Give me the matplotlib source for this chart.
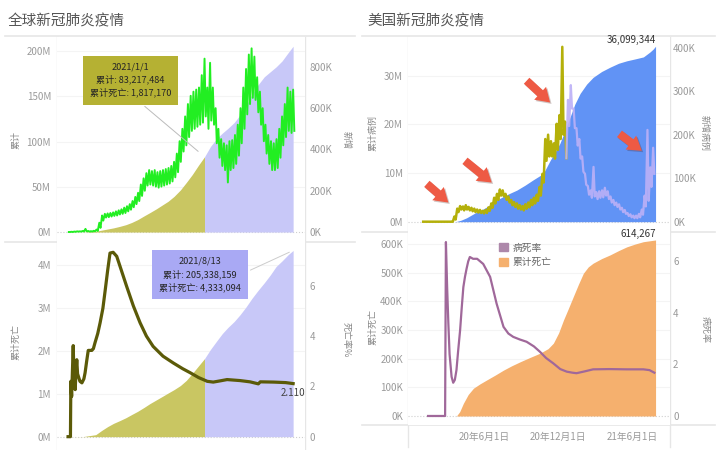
import numpy as np
import matplotlib
matplotlib.use('Agg')
import matplotlib.pyplot as plt
from matplotlib.lines import Line2D
from matplotlib.patches import Patch
import matplotlib.patheffects as pe

plt.rcParams['font.family'] = ['Noto Sans CJK SC', 'DejaVu Sans']
plt.rcParams['axes.unicode_minus'] = False

W, H = 720, 450

# ---------------- 全球 (第0天 = 2020-01-22) ----------------
# 每周新增的高点/低点 (K)
gl_new_hi = [0, 1, 2, 3, 3, 5, 15, 5, 4, 6,
             12, 45, 80, 88, 90, 92, 95, 100, 105, 110,
             118, 125, 135, 150, 170, 190, 230, 260, 285, 300,
             295, 300, 290, 295, 300, 305, 310, 320, 340, 380,
             440, 500, 560, 620, 660, 680, 690, 700, 760, 840,
             700, 820, 700, 600, 500, 450, 430, 420, 440, 445,
             470, 520, 600, 700, 790, 860, 890, 850, 750, 680,
             600, 520, 470, 440, 430, 450, 500, 560, 620, 700,
             680, 690]
gl_new_lo = [0, 0, 1, 2, 2, 2, 3, 2, 2, 3,
             5, 20, 55, 70, 72, 75, 78, 80, 85, 88,
             92, 100, 108, 120, 135, 150, 175, 200, 225, 230,
             225, 220, 215, 220, 225, 230, 235, 245, 265, 290,
             340, 390, 420, 460, 490, 500, 510, 520, 530, 560,
             500, 540, 520, 430, 360, 320, 300, 240, 300, 310,
             330, 370, 430, 500, 570, 620, 650, 640, 580, 520,
             440, 380, 330, 300, 300, 310, 360, 420, 460, 490,
             480, 490]
gl_days = [0, 10, 39, 70, 85, 100, 115, 131, 146, 161, 176, 192, 207, 223, 238,
           253, 268, 284, 299, 314, 330, 345, 360, 376, 390, 404, 420, 435, 450,
           465, 480, 496, 511, 526, 541, 557, 569]
gl_cum_cases = [0.0006, 0.012, 0.088, 0.93, 2.1, 3.35, 4.6, 6.3, 8.1, 10.6, 13.7,
                17.8, 21.5, 25.6, 29.8, 34.0, 39.4, 46.5, 54.8, 63.5, 74.0, 83.2,
                94.5, 103.5, 109.3, 114.5, 121.0, 129.5, 140.0, 152.0, 162.5,
                171.5, 177.0, 182.5, 189.0, 198.5, 205.3]  # M
gl_cum_deaths = [0.00002, 0.00026, 0.003, 0.047, 0.145, 0.234, 0.31, 0.375, 0.44,
                 0.516, 0.59, 0.68, 0.77, 0.855, 0.935, 1.016, 1.095, 1.19, 1.31,
                 1.47, 1.65, 1.817, 2.03, 2.23, 2.40, 2.54, 2.68, 2.84, 3.02, 3.22,
                 3.40, 3.58, 3.76, 3.96, 4.09, 4.24, 4.333]  # M
gl_rate_days = [0, 6, 7, 9, 11, 13, 15, 18, 20, 22, 24, 26, 30, 35, 40, 43, 47, 51,
                56, 60, 64, 68, 75, 81, 88, 94, 100, 106, 114, 123, 135, 148, 165,
                182, 198, 215, 240, 266, 290, 309, 330, 352, 367, 385, 402, 435,
                460, 481, 486, 520, 550, 569]
gl_rate = [0, 0, 2.2, 1.6, 2.6, 3.62, 2.3, 1.87, 2.6, 3.06, 2.5, 2.4, 2.2, 2.14,
           2.3, 2.54, 3.0, 3.43, 3.43, 3.43, 3.5, 3.73, 4.1, 4.53, 5.1, 5.84, 6.6,
           7.3, 7.33, 7.17, 6.6, 5.98, 5.2, 4.53, 4.0, 3.59, 3.2, 2.93, 2.7, 2.54,
           2.35, 2.2, 2.17, 2.22, 2.27, 2.23, 2.18, 2.1, 2.18, 2.17, 2.15, 2.11]
gl_split = 345  # 2021/1/1

# ---------------- 美国 (第0天 = 2020-01-01) ----------------
us_new_hi = [0, 0, 0, 0, 0, 0, 0, 0, 0, 0,
             0, 12, 30, 36, 35, 38, 34, 32, 30, 28,
             27, 25, 27, 33, 42, 55, 64, 74, 72, 64,
             58, 50, 45, 42, 38, 36, 40, 44, 50, 55,
             62, 80, 110, 190, 200, 185, 180, 225, 245, 402,
             230, 280, 314, 260, 215, 190, 150, 110, 82, 72,
             126, 68, 70, 72, 78, 70, 58, 50, 44, 40,
             32, 27, 20, 17, 14, 14, 18, 28, 60, 211,
             125, 170]
us_new_lo = [0, 0, 0, 0, 0, 0, 0, 0, 0, 0,
             0, 5, 22, 28, 26, 28, 26, 24, 22, 21,
             20, 19, 20, 25, 32, 42, 50, 60, 58, 50,
             44, 38, 34, 30, 28, 26, 30, 33, 38, 42,
             48, 60, 90, 140, 150, 150, 145, 165, 190, 200,
             146, 220, 260, 215, 175, 145, 115, 85, 62, 55,
             58, 52, 55, 56, 60, 52, 44, 38, 34, 28,
             22, 18, 13, 10, 8, 8, 10, 16, 35, 48,
             80, 110]
us_cum_days = [0, 78, 84, 95, 109, 130, 150, 170, 191, 212, 233, 253, 273, 298,
               315, 327, 339, 352, 364, 376, 389, 405, 421, 442, 463, 484, 504,
               525, 545, 561, 569, 575]
us_cum_cases = [0, 0, 0.05, 0.3, 0.8, 1.8, 2.6, 3.6, 4.8, 5.7, 6.5, 7.5, 8.6, 9.9,
                12.6, 14.3, 16.1, 18.8, 21.5, 24.2, 26.4, 28.3, 29.7, 30.9, 31.8,
                32.6, 33.1, 33.5, 33.9, 34.9, 35.5, 36.1]  # M
us_death_days = [0, 84, 92, 101, 113, 126, 142, 159, 180, 200, 220, 241, 265, 290,
                 310, 323, 336, 348, 360, 372, 385, 397, 409, 421, 442, 463, 484,
                 504, 525, 545, 575]
us_cum_deaths = [0, 0, 15, 44, 75, 97, 112, 126, 143, 160, 175, 189, 204, 219, 235,
                 254, 290, 335, 375, 416, 460, 498, 520, 533, 549, 562, 577, 590,
                 600, 608, 614]  # K
us_rate_days = [14, 56, 58, 61, 64, 67, 72, 76, 80, 84, 88, 93, 97, 101, 105, 109,
                113, 117, 125, 135, 150, 167, 183, 200, 212, 224, 240, 257, 275, 290,
                305, 323, 340, 356, 370, 380, 400, 421, 460, 504, 545, 560, 572]
us_rate = [0, 0, 6.75, 5.0, 3.6, 2.4, 1.52, 1.29, 1.4, 1.78, 2.5, 3.33, 4.2, 5.0,
           5.4, 5.72, 6.0, 6.17, 6.1, 6.1, 5.9, 5.4, 4.36, 3.46, 3.2, 3.07, 2.97,
           2.88, 2.7, 2.49, 2.25, 2.04, 1.82, 1.72, 1.68, 1.66, 1.73, 1.81, 1.82,
           1.81, 1.81, 1.78, 1.68]
us_split = 355
us_tick_days = [152, 335, 517]
us_tick_labels = ['20年6月1日', '20年12月1日', '21年6月1日']
# 箭头 (尾, 头) 以 (天, 新增K) 表示
us_arrows = [((11, 87), (64, 44)), ((105, 140), (171, 90)),
             ((257, 324), (315, 274)), ((486, 202), (541, 163))]

OLIVE_AREA = '#c9c662'
LAV_AREA = '#c8c8f8'
GRID = '#e6e6e6'
TICK = '#9a9a9a'


def weekly(hi, lo):
    d, v = [], []
    for w, (a, b) in enumerate(zip(hi, lo)):
        d += [7 * w + 2, 7 * w + 5]
        v += [a, b]
    return np.array(d), np.array(v)


def rect(x0, y0, x1, y1):
    return [x0 / W, 1 - y1 / H, (x1 - x0) / W, (y1 - y0) / H]


def setup(ax, ax2, xlim, ylim, ylim2, yt, ytl, yt2, yt2l, pad1, pad2):
    for a in (ax, ax2):
        for s in a.spines.values():
            s.set_visible(False)
    ax.tick_params(axis='y', length=0, labelsize=7, labelcolor=TICK, pad=pad1)
    ax2.tick_params(axis='y', length=0, labelsize=7, labelcolor=TICK, pad=pad2)
    ax.set_xlim(xlim)
    ax.set_ylim(ylim)
    ax2.set_ylim(ylim2)
    ax.set_yticks(yt, ytl)
    ax2.set_yticks(yt2, yt2l)
    ax.set_xticks([])
    for t in yt[1:]:
        ax.axhline(t, color='#f4f4f4', lw=0.8, zorder=0)
    ax.axhline(0, color='#cfcfcf', lw=0.8, ls=':', zorder=0)


fig = plt.figure(figsize=(7.2, 4.5), dpi=100)

# 框线
def fline(x0, y0, x1, y1, lw=1.2):
    fig.add_artist(Line2D([x0 / W, x1 / W], [1 - y0 / H, 1 - y1 / H],
                          color=GRID, lw=lw, zorder=0))

for y in (36, 242):
    fline(5, y, 355, y)
for y in (36, 232, 425):
    fline(362, y, 715, y)
for x in (57, 305):
    fline(x, 37, x, 450, lw=1)
for x in (408, 670):
    fline(x, 37, x, 447, lw=1)

fig.text(8 / W, 1 - 21 / H, '全球新冠肺炎疫情', fontsize=10.5, color='#555555', va='center')
fig.text(367 / W, 1 - 21 / H, '美国新冠肺炎疫情', fontsize=10.5, color='#555555', va='center')

lab = dict(fontsize=6.5, color='#888888', ha='center', va='center')
fig.text(16 / W, 1 - 140 / H, '累计', rotation=90, **lab)
fig.text(346 / W, 1 - 140 / H, '新增', rotation=270, **lab)
fig.text(16 / W, 1 - 342 / H, '累计死亡', rotation=90, **lab)
fig.text(346 / W, 1 - 340 / H, '死亡率%', rotation=270, **lab)
fig.text(373 / W, 1 - 133 / H, '累计病例', rotation=90, **lab)
fig.text(704 / W, 1 - 133 / H, '新增病例', rotation=270, **lab)
fig.text(373 / W, 1 - 327 / H, '累计死亡', rotation=90, **lab)
fig.text(705 / W, 1 - 330 / H, '病死率', rotation=270, **lab)

gd = np.array(gl_days)
gc = np.array(gl_cum_cases)
gdt = np.array(gl_cum_deaths)

# ---- 全球 上: 累计 + 新增 ----
ax = fig.add_axes(rect(57, 37, 305, 242))
ax2 = ax.twinx()
setup(ax, ax2, (-28, 599), (-11, 215.5), (-48.5, 945),
      [0, 50, 100, 150, 200], ['0M', '50M', '100M', '150M', '200M'],
      [0, 200, 400, 600, 800], ['0K', '200K', '400K', '600K', '800K'], 4.3, 3.6)
ax.fill_between(gd, gc, where=gd <= gl_split, color=OLIVE_AREA, lw=0)
ax.fill_between(gd, gc, where=gd >= gl_split, color=LAV_AREA, lw=0)
nd, nv = weekly(gl_new_hi, gl_new_lo)
ax2.plot(nd, nv, color='#22ee22', lw=1.4)
i = gl_days.index(gl_split)
ax2.annotate('2021/1/1\n累计: 83,217,484\n累计死亡: 1,817,170',
             xy=(gl_split, gl_cum_cases[i]), xycoords=ax.transData,
             xytext=(0.296, 0.79), textcoords='axes fraction',
             ha='center', va='center', fontsize=6.6, color='#262626',
             linespacing=1.45, zorder=10,
             bbox=dict(boxstyle='square,pad=0.75', fc='#b5b133', ec='none'),
             arrowprops=dict(arrowstyle='-', color='#bbbbbb', lw=0.7,
                             relpos=(0.55, 0.0), shrinkB=6))

# ---- 全球 下: 累计死亡 + 死亡率 ----
bx = fig.add_axes(rect(57, 242, 305, 450))
bx2 = bx.twinx()
setup(bx, bx2, (-28, 599), (-0.31, 4.53), (-0.53, 7.74),
      [0, 1, 2, 3, 4], ['0M', '1M', '2M', '3M', '4M'],
      [0, 2, 4, 6], ['0', '2', '4', '6'], 4.3, 3.6)
bx.fill_between(gd, gdt, where=gd <= gl_split, color=OLIVE_AREA, lw=0)
bx.fill_between(gd, gdt, where=gd >= gl_split, color=LAV_AREA, lw=0)
bx2.plot(gl_rate_days, gl_rate, color='#5b5a08', lw=2.3)
bx2.annotate(f'{gl_rate[-1]:.3f}', xy=(gl_rate_days[-1], gl_rate[-1]),
             xytext=(0, -3), textcoords='offset points', ha='center', va='top',
             fontsize=7, color='#444444')
bx2.annotate('2021/8/13\n累计: 205,338,159\n累计死亡: 4,333,094',
             xy=(gl_days[-1], gl_cum_deaths[-1]), xycoords=bx.transData,
             xytext=(0.577, 0.844), textcoords='axes fraction',
             ha='center', va='center', fontsize=6.6, color='#262626',
             linespacing=1.45, zorder=10,
             bbox=dict(boxstyle='square,pad=0.75', fc='#a9a9f4', ec='none'),
             arrowprops=dict(arrowstyle='-', color='#cccccc', lw=0.7,
                             relpos=(1.0, 0.5), shrinkB=3))

# ---- 美国 上: 累计病例 + 新增病例 ----
cx = fig.add_axes(rect(408, 37, 670, 232))
cx2 = cx.twinx()
setup(cx, cx2, (-35.5, 610.6), (-2.12, 38.0), (-23.7, 424.6),
      [0, 10, 20, 30], ['0M', '10M', '20M', '30M'],
      [0, 100, 200, 300, 400], ['0K', '100K', '200K', '300K', '400K'], 3.6, 2.2)
cx.fill_between(us_cum_days, us_cum_cases, color='#6193f5', lw=0)
ud, uv = weekly(us_new_hi, us_new_lo)
m1 = ud <= us_split
m2 = ud >= us_split
cx2.plot(ud[m1], uv[m1], color='#b4b00a', lw=1.8)
cx2.plot(ud[m2], uv[m2], color='#bcb0f7', lw=1.6, alpha=0.9)
cx.annotate(f'{36099344:,}', xy=(us_cum_days[-1], us_cum_cases[-1]),
            xytext=(0, 1), textcoords='offset points', ha='right', va='bottom',
            fontsize=7, color='#333333')
for tail, head in us_arrows:
    cx2.annotate('', xy=head, xytext=tail,
                 arrowprops=dict(arrowstyle='simple,head_length=0.7,head_width=0.9,tail_width=0.42',
                                 fc='#ee5a44', ec='none', shrinkA=0, shrinkB=0,
                                 mutation_scale=14,
                                 path_effects=[pe.SimplePatchShadow(offset=(1, -1), alpha=0.25),
                                               pe.Normal()]),
                 zorder=8)

# ---- 美国 下: 累计死亡 + 病死率 ----
dx = fig.add_axes(rect(408, 232, 670, 425))
dx2 = dx.twinx()
setup(dx, dx2, (-35.5, 610.6), (-31.4, 641.8), (-0.35, 7.14),
      [0, 100, 200, 300, 400, 500, 600],
      ['0K', '100K', '200K', '300K', '400K', '500K', '600K'],
      [0, 2, 4, 6], ['0', '2', '4', '6'], 3.6, 2.2)
dx.fill_between(us_death_days, us_cum_deaths, color='#f5b06e', lw=0)
dx2.plot(us_rate_days, us_rate, color='#a0689a', lw=1.6)
dx.set_xticks(us_tick_days, us_tick_labels)
dx.tick_params(axis='x', length=0, labelsize=7, labelcolor=TICK, pad=5)
dx.annotate(f'{614267:,}', xy=(us_death_days[-1], us_cum_deaths[-1]),
            xytext=(0, 1), textcoords='offset points', ha='right', va='bottom',
            fontsize=7, color='#333333')
dx2.legend(handles=[Patch(color='#ad88aa', label='病死率'),
                    Patch(color='#f5b06e', label='累计死亡')],
           loc='upper left', bbox_to_anchor=(0.315, 0.99), frameon=False,
           fontsize=7, handlelength=0.9, handleheight=0.9, labelspacing=0.45,
           handletextpad=0.5, labelcolor='#666666')

fig.savefig('out.png', dpi=100, facecolor='white')
